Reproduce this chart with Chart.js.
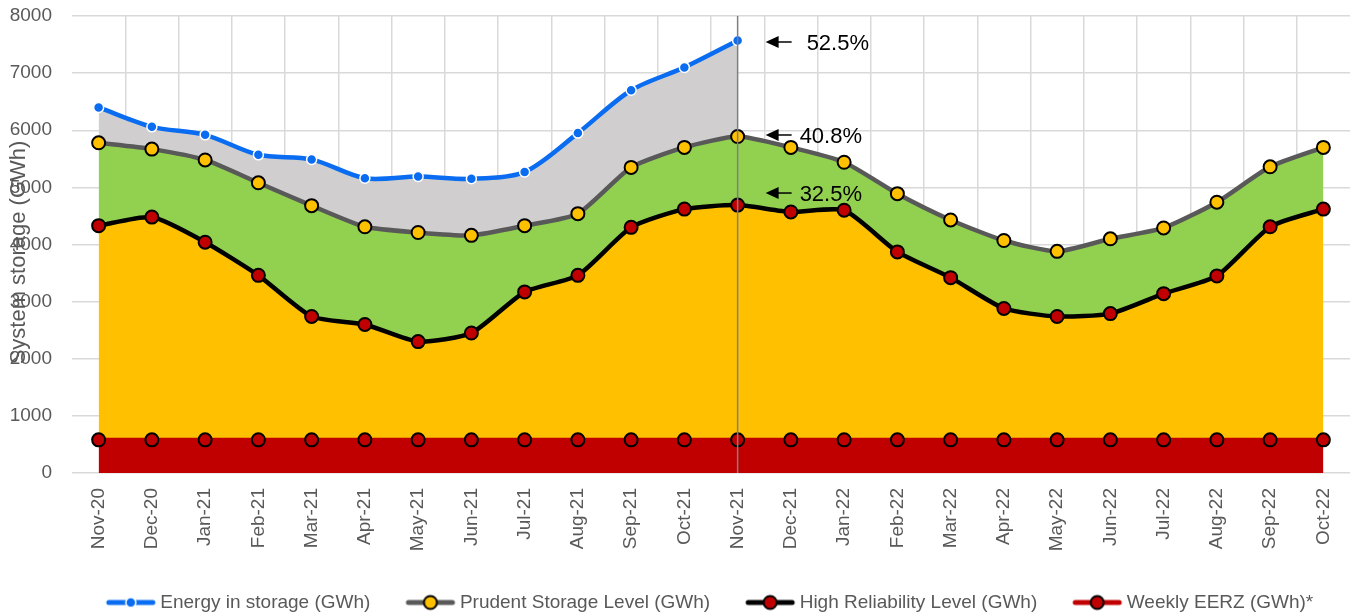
<!DOCTYPE html>
<html>
<head>
<meta charset="utf-8">
<script src="https://cdn.jsdelivr.net/npm/chart.js@4.4.1/dist/chart.umd.min.js"></script>
<style>
  html, body { margin: 0; padding: 0; background: #fff; }
  #wrap { width: 1352px; height: 614px; }
</style>
</head>
<body>
<div id="wrap"><canvas id="storageChart" width="1352" height="614"></canvas></div>
<script>
// month labels
const months = ['Nov-20', 'Dec-20', 'Jan-21', 'Feb-21', 'Mar-21', 'Apr-21', 'May-21', 'Jun-21',
    'Jul-21', 'Aug-21', 'Sep-21', 'Oct-21', 'Nov-21', 'Dec-21', 'Jan-22', 'Feb-22', 'Mar-22',
    'Apr-22', 'May-22', 'Jun-22', 'Jul-22', 'Aug-22', 'Sep-22', 'Oct-22'];

// series (GWh) - energy in storage stops at Nov-21
const energyStorage = [6400, 6060, 5920, 5570, 5490, 5160, 5190, 5150, 5270, 5950, 6700, 7100, 7570,
    null, null, null, null, null, null, null, null, null, null, null];
const prudentLevel = [5780, 5670, 5480, 5080, 4680, 4310, 4210, 4160, 4330, 4540, 5350, 5700, 5890,
    5700, 5440, 4890, 4430, 4070, 3880, 4100, 4290, 4740, 5360, 5700];
const highReliability = [4330, 4480, 4040, 3460, 2740, 2600, 2300, 2450, 3170, 3460, 4300, 4620, 4690,
    4570, 4600, 3870, 3420, 2880, 2740, 2790, 3140, 3450, 4310, 4620];
const weeklyEERZ = [580, 580, 580, 580, 580, 580, 580, 580, 580, 580, 580, 580, 580,
    580, 580, 580, 580, 580, 580, 580, 580, 580, 580, 580];

// annotations next to the Nov-21 line
const noteLabels = ['52.5%', '40.8%', '32.5%'];
const noteValues = [7545, 5917, 4901];
const markerMonth = 'Nov-21';

const yTicks = { min: 0, max: 8000, step: 1000 };

// legend marker: line with a dot in the middle
function legendMarker(lineColor, dotColor, dotBorder, dotBorderWidth, radius) {
    const c = document.createElement('canvas');
    c.width = 52;
    c.height = 18;
    const g = c.getContext('2d');
    g.strokeStyle = lineColor;
    g.lineWidth = 5;
    g.lineCap = 'round';
    g.beginPath();
    g.moveTo(4, 9);
    g.lineTo(48, 9);
    g.stroke();
    g.beginPath();
    g.arc(26, 9, radius, 0, Math.PI * 2);
    g.fillStyle = dotColor;
    g.fill();
    g.lineWidth = dotBorderWidth;
    g.strokeStyle = dotBorder;
    g.stroke();
    return c;
}

const markers = [
    legendMarker('#0a6cf0', '#0a6cf0', '#ffffff', 1.5, 5),
    legendMarker('#595959', '#ffc000', '#000000', 2, 6.5),
    legendMarker('#000000', '#c00000', '#000000', 2, 6.5),
    legendMarker('#c00000', '#c00000', '#000000', 2, 6.5)
];

// keep the legend on one row, low in the canvas
const legendPlace = {
    id: 'legendPlace',
    afterInit(chart) {
        const lg = chart.legend;
        if (!lg) return;
        const fit = lg.fit.bind(lg);
        lg.fit = function () {
            const mw = this.maxWidth;
            this.maxWidth = 4000;
            fit();
            this.maxWidth = mw;
            this.width = mw;
            this.height = 61;
        };
    },
    afterLayout(chart) {
        if (chart.legend) {
            chart.legend.left -= 4;
            chart.legend.right += 78;
        }
    }
};

// vertical line at Nov-21, arrows + percentages, rotated y title
const annotate = {
    id: 'annotate',
    afterDatasetsDraw(chart) {
        const ctx = chart.ctx;
        const x = chart.scales.x;
        const y = chart.scales.y;
        const area = chart.chartArea;
        const xm = x.getPixelForValue(months.indexOf(markerMonth));

        ctx.save();
        ctx.strokeStyle = '#7f7f7f';
        ctx.lineWidth = 1.5;
        ctx.beginPath();
        ctx.moveTo(xm, area.top);
        ctx.lineTo(xm, area.bottom);
        ctx.stroke();

        ctx.font = '22px "Liberation Sans", Arial, sans-serif';
        ctx.fillStyle = '#000';
        ctx.textBaseline = 'middle';
        ctx.textAlign = 'left';
        noteLabels.forEach((txt, i) => {
            const py = y.getPixelForValue(noteValues[i]);
            const hx = xm + 28;
            ctx.beginPath();
            ctx.moveTo(hx, py);
            ctx.lineTo(hx + 13, py - 6);
            ctx.lineTo(hx + 13, py + 6);
            ctx.closePath();
            ctx.fill();
            ctx.lineWidth = 1.5;
            ctx.strokeStyle = '#000';
            ctx.beginPath();
            ctx.moveTo(hx + 10, py);
            ctx.lineTo(hx + 26, py);
            ctx.stroke();
            ctx.fillText(txt, xm + (i === 0 ? 69 : 62), py + 2);
        });
        ctx.restore();
    },
    afterDraw(chart) {
        const ctx = chart.ctx;
        const area = chart.chartArea;
        ctx.save();
        ctx.translate(19, (area.top + area.bottom) / 2 + 8);
        ctx.rotate(-Math.PI / 2);
        ctx.font = '22px "Liberation Sans", Arial, sans-serif';
        ctx.fillStyle = '#595959';
        ctx.textAlign = 'center';
        ctx.textBaseline = 'middle';
        ctx.fillText('System storage (GWh)', 0, 0);
        ctx.restore();
    }
};

const ctx = document.getElementById('storageChart').getContext('2d');
new Chart(ctx, {
    type: 'line',
    data: {
        labels: months,
        datasets: [
            {
                label: 'Energy in storage (GWh)',
                data: energyStorage,
                borderColor: '#0a6cf0',
                borderWidth: 4.5,
                backgroundColor: '#d0cece',
                pointBackgroundColor: '#0a6cf0',
                pointBorderColor: '#ffffff',
                pointBorderWidth: 1.5,
                pointRadius: 5,
                tension: 0.3,
                fill: '+1'
            },
            {
                label: 'Prudent Storage Level (GWh)',
                data: prudentLevel,
                borderColor: '#595959',
                borderWidth: 4.5,
                backgroundColor: '#92d050',
                pointBackgroundColor: '#ffc000',
                pointBorderColor: '#000000',
                pointBorderWidth: 2,
                pointRadius: 6.5,
                tension: 0.2,
                fill: '+1'
            },
            {
                label: 'High Reliability Level (GWh)',
                data: highReliability,
                borderColor: '#000000',
                borderWidth: 4.5,
                backgroundColor: '#ffc000',
                pointBackgroundColor: '#c00000',
                pointBorderColor: '#000000',
                pointBorderWidth: 2,
                pointRadius: 6.5,
                tension: 0.2,
                fill: '+1'
            },
            {
                label: 'Weekly EERZ (GWh)*',
                data: weeklyEERZ,
                borderColor: '#c00000',
                borderWidth: 4,
                backgroundColor: '#c00000',
                pointBackgroundColor: '#c00000',
                pointBorderColor: '#000000',
                pointBorderWidth: 2,
                pointRadius: 6.5,
                tension: 0,
                fill: 'origin'
            }
        ]
    },
    options: {
        responsive: false,
        animation: false,
        layout: {
            autoPadding: false,
            padding: { top: 16, right: 2, left: 0, bottom: 0 }
        },
        scales: {
            x: {
                offset: true,
                grid: {
                    offset: true,
                    drawTicks: true,
                    tickLength: 12,
                    tickColor: 'rgba(0,0,0,0)',
                    lineWidth: 1.5,
                    color: (c) => (c.type !== 'tick' || c.index === 0) ? 'rgba(0,0,0,0)' : '#d9d9d9'
                },
                border: { display: false },
                ticks: {
                    color: '#595959',
                    font: { family: '"Liberation Sans", Arial, sans-serif', size: 19 },
                    minRotation: 90,
                    maxRotation: 90,
                    autoSkip: false,
                    padding: 3
                },
                afterFit: (s) => {
                    s.height = 80;
                    s.paddingLeft = 0;
                    s.paddingRight = 0;
                }
            },
            y: {
                min: yTicks.min,
                max: yTicks.max,
                grid: {
                    drawTicks: false,
                    lineWidth: 1.5,
                    color: '#d9d9d9'
                },
                border: { display: false },
                ticks: {
                    stepSize: yTicks.step,
                    color: '#595959',
                    font: { family: '"Liberation Sans", Arial, sans-serif', size: 19 },
                    padding: 20,
                    callback: (v) => String(v)
                },
                afterFit: (s) => {
                    s.width = 72;
                    s.paddingTop = 0;
                    s.paddingBottom = 0;
                }
            }
        },
        plugins: {
            filler: { drawTime: 'beforeDatasetsDraw' },
            tooltip: { enabled: false },
            legend: {
                display: true,
                position: 'bottom',
                labels: {
                    usePointStyle: true,
                    pointStyleWidth: 40,
                    padding: 40,
                    color: '#595959',
                    font: { family: '"Liberation Sans", Arial, sans-serif', size: 19 },
                    generateLabels: (chart) => chart.data.datasets.map((ds, i) => ({
                        text: ds.label,
                        pointStyle: markers[i],
                        fillStyle: ds.borderColor,
                        strokeStyle: ds.borderColor,
                        lineWidth: 0,
                        fontColor: '#595959',
                        hidden: false,
                        datasetIndex: i
                    }))
                }
            }
        }
    },
    plugins: [legendPlace, annotate]
});
</script>
</body>
</html>
